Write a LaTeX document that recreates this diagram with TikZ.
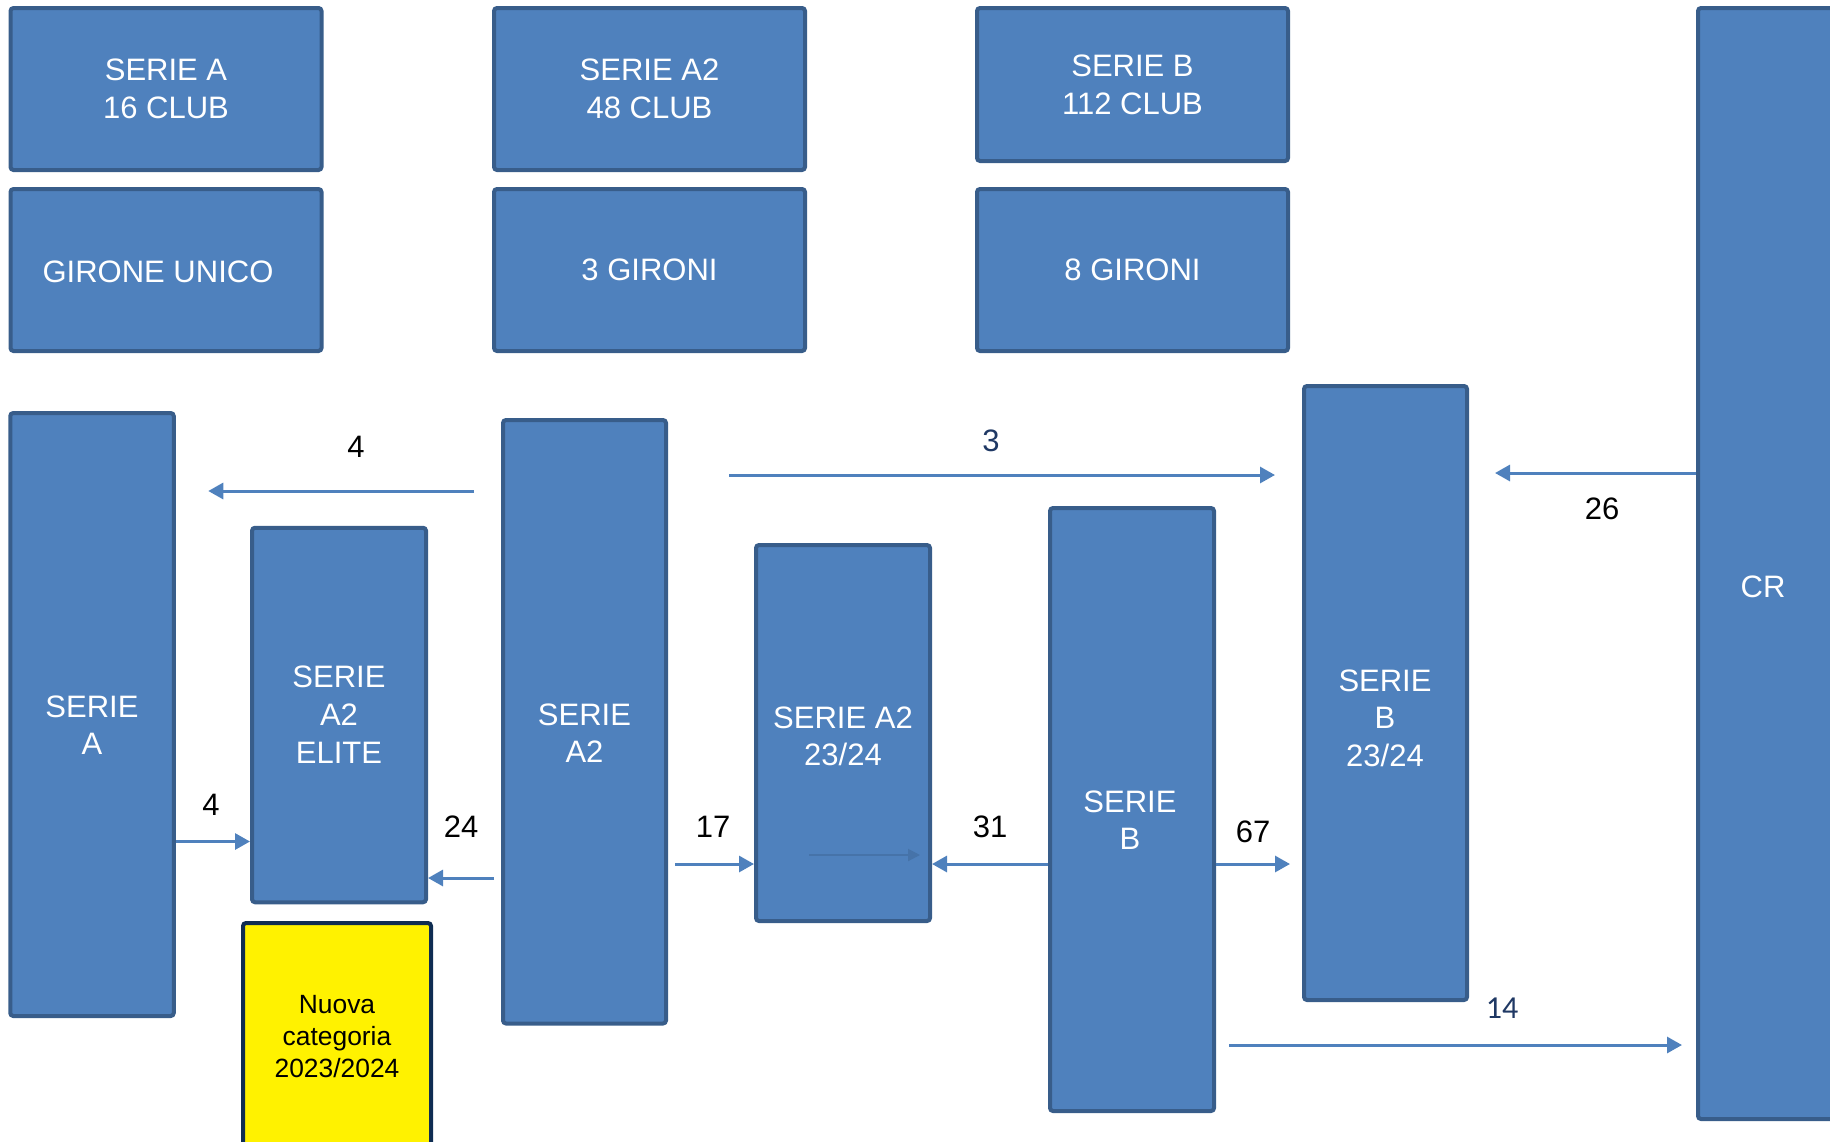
\documentclass[tikz,border=0pt]{standalone}
\usepackage{fontspec}
\setmainfont{Liberation Sans}
\newfontfamily\carlito{Carlito}
\usetikzlibrary{arrows.meta}
\definecolor{azul}{RGB}{79,129,189}
\definecolor{borde}{RGB}{56,93,138}
\definecolor{marino}{RGB}{31,56,100}
\definecolor{bordeam}{RGB}{15,45,82}

\begin{document}
\begin{tikzpicture}[x=0.5pt, y=-0.5pt,
    caja/.style 2 args={draw=borde, fill=azul, line width=2pt, rounded corners=1.5pt,
        minimum width=#1*0.5pt, minimum height=#2*0.5pt, inner sep=0pt,
        text=white, align=center, font=\fontsize{15.5}{19}\selectfont},
    txt/.style={text=white, align=center, font=\fontsize{15.5}{18.75}\selectfont},
    num/.style={font=\fontsize{15.5}{18}\selectfont},
    flecha/.style={draw=azul, line width=1.5pt, -{Triangle[length=7.5pt,width=8pt]}}]
    \useasboundingbox (0,0) rectangle (1830,1141);

    % Fila superior
    \node[caja={311}{162}] (serieAtop) at (166,89) {SERIE A\\16 CLUB};
    \node[caja={311}{162}] (unico) at (166,270) {};
    \node[txt] at (158,272) {GIRONE UNICO};
    \node[caja={311}{162}] (serieA2top) at (649.5,89) {SERIE A2\\48 CLUB};
    \node[caja={311}{162}] (tre) at (649.5,270) {3 GIRONI};
    \node[caja={311}{153}] (serieBtop) at (1132.5,84.5) {SERIE B\\112 CLUB};
    \node[caja={311}{162}] (otto) at (1132.5,270) {8 GIRONI};

    % Columnas
    \node[caja={163.5}{603}] (sA) at (92,714.5) {};
    \node[txt] at (92,725) {SERIE\\A};
    \node[caja={174}{374.5}] (elite) at (339,715) {SERIE\\A2\\ELITE};
    \node[draw=bordeam, fill=yellow, line width=2pt, rounded corners=1.5pt,
        minimum width=94pt, minimum height=113.5pt, align=center,
        font=\fontsize{13.2}{16}\selectfont] (nuova) at (337,1036.5) {Nuova\\categoria\\2023/2024};
    \node[caja={163}{603.5}] (sA2) at (584.5,721.75) {};
    \node[txt] at (584.5,733) {SERIE\\A2};
    \node[caja={174}{376}] (a2new) at (843,733) {};
    \node[txt] at (843,736.5) {SERIE A2\\23/24};
    \node[caja={164}{603}] (sB) at (1132,809.5) {};
    \node[txt] at (1130,820) {SERIE\\B};
    \node[caja={163}{614}] (bnew) at (1385.5,693) {};
    \node[txt] at (1385,718) {SERIE\\B\\23/24};
    \node[caja={142}{1111}] (cr) at (1769,563.5) {};
    \node[txt] at (1763,587) {CR};

    % Flechas
    \draw[flecha, shorten <=13.5pt, shorten >=16.25pt] (sA2.west |- 0,491) -- (sA.east |- 0,491);
    \draw[flecha, shorten <=30.5pt, shorten >=13.5pt] (sA2.east |- 0,475) -- (bnew.west |- 0,475);
    \draw[flecha, shorten >=13pt] (cr.west |- 0,473) -- (bnew.east |- 0,473);
    \draw[flecha] (sA.east |- 0,841.5) -- (elite.west |- 0,841.5);
    \draw[flecha, shorten <=3.5pt] (sA2.west |- 0,878) -- (elite.east |- 0,878);
    \draw[flecha, shorten <=3.5pt] (sA2.east |- 0,864) -- (a2new.west |- 0,864);
    \draw[flecha] (sB.west |- 0,864) -- (a2new.east |- 0,864);
    \draw[flecha, shorten >=6pt] (sB.east |- 0,864) -- (bnew.west |- 0,864);
    \draw[flecha, shorten <=6.5pt, shorten >=7pt] (sB.east |- 0,1045) -- (cr.west |- 0,1045);
    \draw[draw=borde!40!azul, line width=1pt, -{Triangle[length=6pt,width=6pt]},
        shorten <=27.5pt, shorten >=6pt] (a2new.west |- 0,855) -- (a2new.east |- 0,855);

    % Cantidades
    \node[num] at (356,447) {4};
    \node[num, text=marino] at (991,441) {3};
    \node[num] at (1602,509) {26};
    \node[num] at (211,805) {4};
    \node[num] at (461,827) {24};
    \node[num] at (713,827) {17};
    \node[num] at (990,827) {31};
    \node[num] at (1253,832) {67};
    \node[num, text=marino, font=\carlito\fontsize{16}{18}\selectfont] at (1502,1008) {14};
\end{tikzpicture}
\end{document}
